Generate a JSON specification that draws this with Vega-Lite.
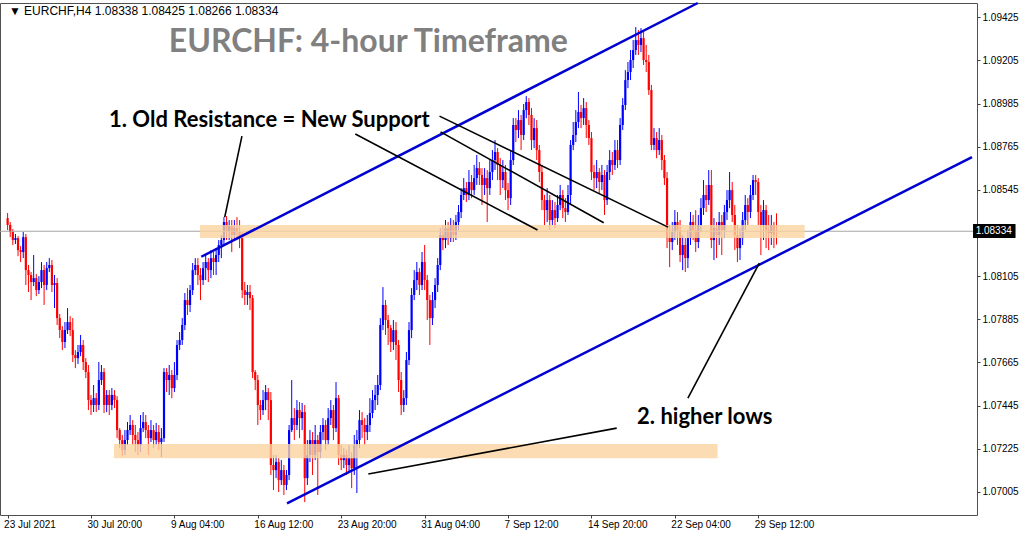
{
"$schema":"https://vega.github.io/schema/vega-lite/v6.json",
"width":977,"height":512,
"autosize":{"type":"none"},
"padding":{"left":0,"top":3,"right":47,"bottom":18},
"background":"white",
"config":{"view":{"stroke":"#505050","strokeWidth":1},
 "axisX":{"labelAlign":"left","labelOffset":-4,"labelFont":"Liberation Sans","labelFontSize":10,"labelColor":"#000000","tickSize":3,"tickColor":"#404040","labelPadding":1,"domain":false,"grid":false,"labelOverlap":false,"labelFlush":false},
 "axisY":{"labelFont":"Liberation Sans","labelFontSize":10,"labelColor":"#000000","tickSize":3,"tickColor":"#404040","labelPadding":2,"domain":false,"grid":false,"labelOverlap":false,"labelFlush":false}},
"datasets":{
"candles":[
{"i":1,"o":1.08401,"h":1.08427,"l":1.0834,"c":1.08366},
{"i":2,"o":1.08366,"h":1.08381,"l":1.08304,"c":1.0833},
{"i":3,"o":1.0833,"h":1.08345,"l":1.08264,"c":1.08289},
{"i":4,"o":1.08289,"h":1.0832,"l":1.08269,"c":1.08299},
{"i":5,"o":1.08299,"h":1.08309,"l":1.08207,"c":1.08238},
{"i":6,"o":1.08238,"h":1.08258,"l":1.08177,"c":1.08228},
{"i":7,"o":1.08228,"h":1.0833,"l":1.08197,"c":1.08304},
{"i":8,"o":1.08304,"h":1.0832,"l":1.0806,"c":1.08136},
{"i":9,"o":1.08136,"h":1.08162,"l":1.08024,"c":1.08111},
{"i":10,"o":1.08111,"h":1.08126,"l":1.07983,"c":1.08075},
{"i":11,"o":1.08075,"h":1.08213,"l":1.08054,"c":1.08095},
{"i":12,"o":1.08095,"h":1.08116,"l":1.08003,"c":1.08034},
{"i":13,"o":1.08034,"h":1.08105,"l":1.08014,"c":1.08075},
{"i":14,"o":1.08075,"h":1.08177,"l":1.08044,"c":1.08136},
{"i":15,"o":1.08136,"h":1.08162,"l":1.07958,"c":1.0806},
{"i":16,"o":1.0806,"h":1.08177,"l":1.08034,"c":1.08146},
{"i":17,"o":1.08146,"h":1.08197,"l":1.08126,"c":1.08162},
{"i":18,"o":1.08162,"h":1.08187,"l":1.08024,"c":1.0806},
{"i":19,"o":1.0806,"h":1.08111,"l":1.07942,"c":1.0807},
{"i":20,"o":1.0807,"h":1.08095,"l":1.07856,"c":1.07891},
{"i":21,"o":1.07891,"h":1.07912,"l":1.07789,"c":1.0783},
{"i":22,"o":1.0783,"h":1.0785,"l":1.07728,"c":1.07769},
{"i":23,"o":1.07769,"h":1.07871,"l":1.07738,"c":1.0783},
{"i":24,"o":1.0783,"h":1.07942,"l":1.0781,"c":1.07871},
{"i":25,"o":1.07871,"h":1.07901,"l":1.07799,"c":1.0783},
{"i":26,"o":1.0783,"h":1.07891,"l":1.07667,"c":1.07703},
{"i":27,"o":1.07703,"h":1.07728,"l":1.07636,"c":1.07687},
{"i":28,"o":1.07687,"h":1.07754,"l":1.07657,"c":1.07718},
{"i":29,"o":1.07718,"h":1.07805,"l":1.07697,"c":1.07754},
{"i":30,"o":1.07754,"h":1.07779,"l":1.07626,"c":1.07667},
{"i":31,"o":1.07667,"h":1.07687,"l":1.07585,"c":1.07616},
{"i":32,"o":1.07616,"h":1.07652,"l":1.07422,"c":1.07473},
{"i":33,"o":1.07473,"h":1.07499,"l":1.07397,"c":1.07448},
{"i":34,"o":1.07448,"h":1.0755,"l":1.07412,"c":1.07483},
{"i":35,"o":1.07483,"h":1.07509,"l":1.07412,"c":1.07448},
{"i":36,"o":1.07448,"h":1.07667,"l":1.07422,"c":1.07575},
{"i":37,"o":1.07575,"h":1.07652,"l":1.0755,"c":1.07616},
{"i":38,"o":1.07616,"h":1.07636,"l":1.07407,"c":1.07448},
{"i":39,"o":1.07448,"h":1.07524,"l":1.07412,"c":1.07499},
{"i":40,"o":1.07499,"h":1.07524,"l":1.07397,"c":1.07448},
{"i":41,"o":1.07448,"h":1.07534,"l":1.07422,"c":1.07499},
{"i":42,"o":1.07499,"h":1.07524,"l":1.07432,"c":1.07473},
{"i":43,"o":1.07473,"h":1.07493,"l":1.07279,"c":1.0732},
{"i":44,"o":1.0732,"h":1.0733,"l":1.07228,"c":1.07269},
{"i":45,"o":1.07269,"h":1.07295,"l":1.07187,"c":1.07218},
{"i":46,"o":1.07218,"h":1.0732,"l":1.07193,"c":1.07269},
{"i":47,"o":1.07269,"h":1.07361,"l":1.07244,"c":1.0732},
{"i":48,"o":1.0732,"h":1.07397,"l":1.07295,"c":1.07346},
{"i":49,"o":1.07346,"h":1.07371,"l":1.07244,"c":1.07295},
{"i":50,"o":1.07295,"h":1.07346,"l":1.07208,"c":1.07269},
{"i":51,"o":1.07269,"h":1.0731,"l":1.07193,"c":1.07244},
{"i":52,"o":1.07244,"h":1.07397,"l":1.07208,"c":1.0733},
{"i":53,"o":1.0733,"h":1.07412,"l":1.0731,"c":1.07361},
{"i":54,"o":1.07361,"h":1.07397,"l":1.07279,"c":1.0732},
{"i":55,"o":1.0732,"h":1.07346,"l":1.07193,"c":1.07279},
{"i":56,"o":1.07279,"h":1.07371,"l":1.07259,"c":1.0732},
{"i":57,"o":1.0732,"h":1.07346,"l":1.07228,"c":1.07269},
{"i":58,"o":1.07269,"h":1.07356,"l":1.07244,"c":1.0731},
{"i":59,"o":1.0731,"h":1.07346,"l":1.07218,"c":1.07259},
{"i":60,"o":1.07259,"h":1.0733,"l":1.07182,"c":1.07279},
{"i":61,"o":1.07279,"h":1.07636,"l":1.07259,"c":1.07616},
{"i":62,"o":1.07616,"h":1.07636,"l":1.07514,"c":1.07575},
{"i":63,"o":1.07575,"h":1.07652,"l":1.07499,"c":1.07601},
{"i":64,"o":1.07601,"h":1.07626,"l":1.07483,"c":1.07534},
{"i":65,"o":1.07534,"h":1.07667,"l":1.07514,"c":1.07601},
{"i":66,"o":1.07601,"h":1.07779,"l":1.07575,"c":1.07754},
{"i":67,"o":1.07754,"h":1.0782,"l":1.07728,"c":1.07779},
{"i":68,"o":1.07779,"h":1.07891,"l":1.07754,"c":1.07856},
{"i":69,"o":1.07856,"h":1.08019,"l":1.0783,"c":1.07983},
{"i":70,"o":1.07983,"h":1.08044,"l":1.07907,"c":1.07958},
{"i":71,"o":1.07958,"h":1.0806,"l":1.07922,"c":1.08034},
{"i":72,"o":1.08034,"h":1.08172,"l":1.08009,"c":1.08136},
{"i":73,"o":1.08136,"h":1.08197,"l":1.08111,"c":1.08162},
{"i":74,"o":1.08162,"h":1.08197,"l":1.0806,"c":1.08111},
{"i":75,"o":1.08111,"h":1.08146,"l":1.07983,"c":1.08085},
{"i":76,"o":1.08085,"h":1.08177,"l":1.0806,"c":1.08146},
{"i":77,"o":1.08146,"h":1.08213,"l":1.08085,"c":1.08177},
{"i":78,"o":1.08177,"h":1.08197,"l":1.08075,"c":1.08136},
{"i":79,"o":1.08136,"h":1.08238,"l":1.08095,"c":1.08197},
{"i":80,"o":1.08197,"h":1.08228,"l":1.08111,"c":1.08177},
{"i":81,"o":1.08177,"h":1.08248,"l":1.08111,"c":1.08213},
{"i":82,"o":1.08213,"h":1.08289,"l":1.08177,"c":1.08264},
{"i":83,"o":1.08264,"h":1.08315,"l":1.08197,"c":1.08289},
{"i":84,"o":1.08289,"h":1.08406,"l":1.08264,"c":1.08381},
{"i":85,"o":1.08381,"h":1.08411,"l":1.08289,"c":1.0833},
{"i":86,"o":1.0833,"h":1.08391,"l":1.08289,"c":1.0836},
{"i":87,"o":1.0836,"h":1.08391,"l":1.08228,"c":1.08315},
{"i":88,"o":1.08315,"h":1.08391,"l":1.08289,"c":1.0835},
{"i":89,"o":1.0835,"h":1.08406,"l":1.08289,"c":1.0833},
{"i":90,"o":1.0833,"h":1.08391,"l":1.08248,"c":1.08299},
{"i":91,"o":1.08299,"h":1.0833,"l":1.07993,"c":1.08034},
{"i":92,"o":1.08034,"h":1.08075,"l":1.07958,"c":1.08009},
{"i":93,"o":1.08009,"h":1.0806,"l":1.07958,"c":1.08024},
{"i":94,"o":1.08024,"h":1.0806,"l":1.07932,"c":1.07993},
{"i":95,"o":1.07993,"h":1.08009,"l":1.07585,"c":1.07616},
{"i":96,"o":1.07616,"h":1.07626,"l":1.07524,"c":1.07575},
{"i":97,"o":1.07575,"h":1.07601,"l":1.07346,"c":1.07448},
{"i":98,"o":1.07448,"h":1.07473,"l":1.07371,"c":1.07422},
{"i":99,"o":1.07422,"h":1.07524,"l":1.07397,"c":1.07473},
{"i":100,"o":1.07473,"h":1.0755,"l":1.07422,"c":1.07514},
{"i":101,"o":1.07514,"h":1.07534,"l":1.07371,"c":1.07473},
{"i":102,"o":1.07473,"h":1.07514,"l":1.07091,"c":1.07142},
{"i":103,"o":1.07142,"h":1.07193,"l":1.07014,"c":1.07116},
{"i":104,"o":1.07116,"h":1.07193,"l":1.07075,"c":1.07157},
{"i":105,"o":1.07157,"h":1.07177,"l":1.07004,"c":1.07065},
{"i":106,"o":1.07065,"h":1.07167,"l":1.0704,"c":1.07116},
{"i":107,"o":1.07116,"h":1.07142,"l":1.06989,"c":1.0704},
{"i":108,"o":1.0704,"h":1.07116,"l":1.07014,"c":1.07091},
{"i":109,"o":1.07091,"h":1.07346,"l":1.07065,"c":1.0732},
{"i":110,"o":1.0732,"h":1.07575,"l":1.0731,"c":1.07381},
{"i":111,"o":1.07381,"h":1.07432,"l":1.07269,"c":1.07346},
{"i":112,"o":1.07346,"h":1.07473,"l":1.0732,"c":1.07422},
{"i":113,"o":1.07422,"h":1.07463,"l":1.07279,"c":1.07381},
{"i":114,"o":1.07381,"h":1.07458,"l":1.0732,"c":1.07412},
{"i":115,"o":1.07412,"h":1.07448,"l":1.06953,"c":1.07075},
{"i":116,"o":1.07075,"h":1.07269,"l":1.0704,"c":1.07193},
{"i":117,"o":1.07193,"h":1.0732,"l":1.07157,"c":1.07269},
{"i":118,"o":1.07269,"h":1.0731,"l":1.07091,"c":1.07193},
{"i":119,"o":1.07193,"h":1.07346,"l":1.07167,"c":1.07269},
{"i":120,"o":1.07269,"h":1.07295,"l":1.06989,"c":1.07208},
{"i":121,"o":1.07208,"h":1.07346,"l":1.07177,"c":1.0731},
{"i":122,"o":1.0731,"h":1.07381,"l":1.07269,"c":1.07346},
{"i":123,"o":1.07346,"h":1.07371,"l":1.07218,"c":1.07269},
{"i":124,"o":1.07269,"h":1.07432,"l":1.07244,"c":1.07381},
{"i":125,"o":1.07381,"h":1.07473,"l":1.07346,"c":1.07422},
{"i":126,"o":1.07422,"h":1.07448,"l":1.07269,"c":1.0733},
{"i":127,"o":1.0733,"h":1.07565,"l":1.0731,"c":1.07483},
{"i":128,"o":1.07483,"h":1.07499,"l":1.07142,"c":1.07193},
{"i":129,"o":1.07193,"h":1.07244,"l":1.07116,"c":1.07167},
{"i":130,"o":1.07167,"h":1.07228,"l":1.07126,"c":1.07193},
{"i":131,"o":1.07193,"h":1.07218,"l":1.07091,"c":1.07142},
{"i":132,"o":1.07142,"h":1.07244,"l":1.07106,"c":1.07177},
{"i":133,"o":1.07177,"h":1.07208,"l":1.07024,"c":1.07126},
{"i":134,"o":1.07126,"h":1.07295,"l":1.07091,"c":1.07244},
{"i":135,"o":1.07244,"h":1.0732,"l":1.06999,"c":1.07269},
{"i":136,"o":1.07269,"h":1.07422,"l":1.07228,"c":1.07371},
{"i":137,"o":1.07371,"h":1.07412,"l":1.07279,"c":1.07346},
{"i":138,"o":1.07346,"h":1.07381,"l":1.07244,"c":1.0731},
{"i":139,"o":1.0731,"h":1.07397,"l":1.07269,"c":1.07346},
{"i":140,"o":1.07346,"h":1.07483,"l":1.0731,"c":1.07407},
{"i":141,"o":1.07407,"h":1.07524,"l":1.07381,"c":1.07473},
{"i":142,"o":1.07473,"h":1.0755,"l":1.07422,"c":1.07499},
{"i":143,"o":1.07499,"h":1.07601,"l":1.07448,"c":1.0755},
{"i":144,"o":1.0755,"h":1.07891,"l":1.07524,"c":1.07856},
{"i":145,"o":1.07856,"h":1.08049,"l":1.0783,"c":1.07958},
{"i":146,"o":1.07958,"h":1.07983,"l":1.07805,"c":1.07881},
{"i":147,"o":1.07881,"h":1.07907,"l":1.07754,"c":1.0784},
{"i":148,"o":1.0784,"h":1.07856,"l":1.07718,"c":1.07769},
{"i":149,"o":1.07769,"h":1.07881,"l":1.07728,"c":1.0783},
{"i":150,"o":1.0783,"h":1.07871,"l":1.07677,"c":1.07754},
{"i":151,"o":1.07754,"h":1.07779,"l":1.07514,"c":1.07575},
{"i":152,"o":1.07575,"h":1.07616,"l":1.07397,"c":1.07448},
{"i":153,"o":1.07448,"h":1.07524,"l":1.07412,"c":1.07483},
{"i":154,"o":1.07483,"h":1.07718,"l":1.07448,"c":1.07677},
{"i":155,"o":1.07677,"h":1.07871,"l":1.07652,"c":1.0783},
{"i":156,"o":1.0783,"h":1.08044,"l":1.07789,"c":1.08009},
{"i":157,"o":1.08009,"h":1.08136,"l":1.07983,"c":1.08085},
{"i":158,"o":1.08085,"h":1.08177,"l":1.08034,"c":1.08126},
{"i":159,"o":1.08126,"h":1.08146,"l":1.08009,"c":1.0806},
{"i":160,"o":1.0806,"h":1.08228,"l":1.08034,"c":1.08177},
{"i":161,"o":1.08177,"h":1.08264,"l":1.08034,"c":1.08085},
{"i":162,"o":1.08085,"h":1.08111,"l":1.07881,"c":1.07983},
{"i":163,"o":1.07983,"h":1.08009,"l":1.07754,"c":1.07891},
{"i":164,"o":1.07891,"h":1.08024,"l":1.07856,"c":1.07983},
{"i":165,"o":1.07983,"h":1.08095,"l":1.07942,"c":1.0806},
{"i":166,"o":1.0806,"h":1.08197,"l":1.08024,"c":1.08162},
{"i":167,"o":1.08162,"h":1.0835,"l":1.08136,"c":1.08315},
{"i":168,"o":1.08315,"h":1.08366,"l":1.08238,"c":1.08289},
{"i":169,"o":1.08289,"h":1.08391,"l":1.08248,"c":1.0835},
{"i":170,"o":1.0835,"h":1.08381,"l":1.08264,"c":1.08299},
{"i":171,"o":1.08299,"h":1.08401,"l":1.08279,"c":1.08366},
{"i":172,"o":1.08366,"h":1.08391,"l":1.08279,"c":1.08315},
{"i":173,"o":1.08315,"h":1.08417,"l":1.08289,"c":1.08381},
{"i":174,"o":1.08381,"h":1.08468,"l":1.0834,"c":1.08432},
{"i":175,"o":1.08432,"h":1.08554,"l":1.08401,"c":1.08519},
{"i":176,"o":1.08519,"h":1.08605,"l":1.08493,"c":1.08554},
{"i":177,"o":1.08554,"h":1.08585,"l":1.08483,"c":1.08519},
{"i":178,"o":1.08519,"h":1.08646,"l":1.08493,"c":1.08585},
{"i":179,"o":1.08585,"h":1.08621,"l":1.08503,"c":1.08544},
{"i":180,"o":1.08544,"h":1.08672,"l":1.08519,"c":1.08605},
{"i":181,"o":1.08605,"h":1.08723,"l":1.0857,"c":1.08656},
{"i":182,"o":1.08656,"h":1.08687,"l":1.0857,"c":1.08621},
{"i":183,"o":1.08621,"h":1.08656,"l":1.08468,"c":1.0857},
{"i":184,"o":1.0857,"h":1.08656,"l":1.08519,"c":1.08605},
{"i":185,"o":1.08605,"h":1.08646,"l":1.08381,"c":1.08554},
{"i":186,"o":1.08554,"h":1.08697,"l":1.08519,"c":1.08636},
{"i":187,"o":1.08636,"h":1.08748,"l":1.08595,"c":1.08697},
{"i":188,"o":1.08697,"h":1.08799,"l":1.08646,"c":1.08738},
{"i":189,"o":1.08738,"h":1.08758,"l":1.08595,"c":1.08672},
{"i":190,"o":1.08672,"h":1.08707,"l":1.08519,"c":1.08595},
{"i":191,"o":1.08595,"h":1.08697,"l":1.08554,"c":1.08636},
{"i":192,"o":1.08636,"h":1.08672,"l":1.08493,"c":1.08544},
{"i":193,"o":1.08544,"h":1.0858,"l":1.08442,"c":1.08503},
{"i":194,"o":1.08503,"h":1.08748,"l":1.08468,"c":1.08697},
{"i":195,"o":1.08697,"h":1.08911,"l":1.08672,"c":1.08876},
{"i":196,"o":1.08876,"h":1.08911,"l":1.08789,"c":1.0885},
{"i":197,"o":1.0885,"h":1.08952,"l":1.08809,"c":1.08901},
{"i":198,"o":1.08901,"h":1.08927,"l":1.08748,"c":1.08825},
{"i":199,"o":1.08825,"h":1.08983,"l":1.08799,"c":1.08952},
{"i":200,"o":1.08952,"h":1.09023,"l":1.08911,"c":1.08993},
{"i":201,"o":1.08993,"h":1.09013,"l":1.08876,"c":1.08927},
{"i":202,"o":1.08927,"h":1.08962,"l":1.08748,"c":1.08799},
{"i":203,"o":1.08799,"h":1.08911,"l":1.08758,"c":1.0886},
{"i":204,"o":1.0886,"h":1.08901,"l":1.08697,"c":1.08748},
{"i":205,"o":1.08748,"h":1.08774,"l":1.08585,"c":1.08636},
{"i":206,"o":1.08636,"h":1.08672,"l":1.08442,"c":1.08493},
{"i":207,"o":1.08493,"h":1.08519,"l":1.08366,"c":1.08442},
{"i":208,"o":1.08442,"h":1.08554,"l":1.08381,"c":1.08493},
{"i":209,"o":1.08493,"h":1.08519,"l":1.0834,"c":1.08391},
{"i":210,"o":1.08391,"h":1.08493,"l":1.08366,"c":1.08442},
{"i":211,"o":1.08442,"h":1.08483,"l":1.0835,"c":1.08401},
{"i":212,"o":1.08401,"h":1.08519,"l":1.08381,"c":1.08468},
{"i":213,"o":1.08468,"h":1.0857,"l":1.08442,"c":1.08519},
{"i":214,"o":1.08519,"h":1.08544,"l":1.08401,"c":1.08452},
{"i":215,"o":1.08452,"h":1.08503,"l":1.08381,"c":1.08432},
{"i":216,"o":1.08432,"h":1.0857,"l":1.08417,"c":1.08519},
{"i":217,"o":1.08519,"h":1.08799,"l":1.08468,"c":1.08774},
{"i":218,"o":1.08774,"h":1.08891,"l":1.08748,"c":1.08825},
{"i":219,"o":1.08825,"h":1.08952,"l":1.08789,"c":1.08891},
{"i":220,"o":1.08891,"h":1.09044,"l":1.0886,"c":1.08942},
{"i":221,"o":1.08942,"h":1.08978,"l":1.0886,"c":1.08911},
{"i":222,"o":1.08911,"h":1.09013,"l":1.08876,"c":1.08962},
{"i":223,"o":1.08962,"h":1.08993,"l":1.08809,"c":1.08876},
{"i":224,"o":1.08876,"h":1.08901,"l":1.08774,"c":1.08809},
{"i":225,"o":1.08809,"h":1.0884,"l":1.08595,"c":1.08636},
{"i":226,"o":1.08636,"h":1.08672,"l":1.08544,"c":1.08605},
{"i":227,"o":1.08605,"h":1.08697,"l":1.08554,"c":1.08636},
{"i":228,"o":1.08636,"h":1.08656,"l":1.08529,"c":1.08585},
{"i":229,"o":1.08585,"h":1.08672,"l":1.08544,"c":1.08621},
{"i":230,"o":1.08621,"h":1.08646,"l":1.08417,"c":1.08493},
{"i":231,"o":1.08493,"h":1.08672,"l":1.08468,"c":1.08636},
{"i":232,"o":1.08636,"h":1.08748,"l":1.08595,"c":1.08697},
{"i":233,"o":1.08697,"h":1.08738,"l":1.08621,"c":1.08672},
{"i":234,"o":1.08672,"h":1.08799,"l":1.08646,"c":1.08748},
{"i":235,"o":1.08748,"h":1.08799,"l":1.08656,"c":1.08697},
{"i":236,"o":1.08697,"h":1.08911,"l":1.08672,"c":1.08876},
{"i":237,"o":1.08876,"h":1.09013,"l":1.0885,"c":1.08978},
{"i":238,"o":1.08978,"h":1.09156,"l":1.08952,"c":1.09105},
{"i":239,"o":1.09105,"h":1.09197,"l":1.09064,"c":1.09146},
{"i":240,"o":1.09146,"h":1.09258,"l":1.09105,"c":1.09207},
{"i":241,"o":1.09207,"h":1.09309,"l":1.09166,"c":1.09258},
{"i":242,"o":1.09258,"h":1.09375,"l":1.09233,"c":1.09309},
{"i":243,"o":1.09309,"h":1.0936,"l":1.09233,"c":1.09284},
{"i":244,"o":1.09284,"h":1.0937,"l":1.09248,"c":1.09319},
{"i":245,"o":1.09319,"h":1.0935,"l":1.09182,"c":1.09207},
{"i":246,"o":1.09207,"h":1.09284,"l":1.09146,"c":1.09197},
{"i":247,"o":1.09197,"h":1.09233,"l":1.09029,"c":1.09054},
{"i":248,"o":1.09054,"h":1.0908,"l":1.08748,"c":1.08774},
{"i":249,"o":1.08774,"h":1.0886,"l":1.08748,"c":1.08809},
{"i":250,"o":1.08809,"h":1.0884,"l":1.08707,"c":1.08748},
{"i":251,"o":1.08748,"h":1.0886,"l":1.08723,"c":1.08799},
{"i":252,"o":1.08799,"h":1.08825,"l":1.08646,"c":1.08697},
{"i":253,"o":1.08697,"h":1.08723,"l":1.0857,"c":1.08605},
{"i":254,"o":1.08605,"h":1.08636,"l":1.08248,"c":1.08299},
{"i":255,"o":1.08299,"h":1.08366,"l":1.08151,"c":1.08279},
{"i":256,"o":1.08279,"h":1.08381,"l":1.08238,"c":1.0833},
{"i":257,"o":1.0833,"h":1.08442,"l":1.08289,"c":1.08381},
{"i":258,"o":1.08381,"h":1.08432,"l":1.08264,"c":1.0834},
{"i":259,"o":1.0834,"h":1.08391,"l":1.08177,"c":1.08213},
{"i":260,"o":1.08213,"h":1.08315,"l":1.08136,"c":1.08264},
{"i":261,"o":1.08264,"h":1.08299,"l":1.08126,"c":1.08197},
{"i":262,"o":1.08197,"h":1.0834,"l":1.08146,"c":1.08299},
{"i":263,"o":1.08299,"h":1.08432,"l":1.08264,"c":1.08381},
{"i":264,"o":1.08381,"h":1.08417,"l":1.08289,"c":1.0834},
{"i":265,"o":1.0834,"h":1.08442,"l":1.08228,"c":1.08279},
{"i":266,"o":1.08279,"h":1.08417,"l":1.08248,"c":1.08366},
{"i":267,"o":1.08366,"h":1.08503,"l":1.0833,"c":1.08452},
{"i":268,"o":1.08452,"h":1.08595,"l":1.08417,"c":1.08519},
{"i":269,"o":1.08519,"h":1.0857,"l":1.08432,"c":1.08493},
{"i":270,"o":1.08493,"h":1.08646,"l":1.08468,"c":1.0857},
{"i":271,"o":1.0857,"h":1.08646,"l":1.08248,"c":1.08289},
{"i":272,"o":1.08289,"h":1.08401,"l":1.08187,"c":1.0835},
{"i":273,"o":1.0835,"h":1.08381,"l":1.08197,"c":1.08315},
{"i":274,"o":1.08315,"h":1.08432,"l":1.08264,"c":1.08381},
{"i":275,"o":1.08381,"h":1.08417,"l":1.08213,"c":1.0834},
{"i":276,"o":1.0834,"h":1.08468,"l":1.08299,"c":1.08432},
{"i":277,"o":1.08432,"h":1.08544,"l":1.08391,"c":1.08493},
{"i":278,"o":1.08493,"h":1.08636,"l":1.08452,"c":1.08544},
{"i":279,"o":1.08544,"h":1.08585,"l":1.08381,"c":1.08417},
{"i":280,"o":1.08417,"h":1.08468,"l":1.08238,"c":1.08315},
{"i":281,"o":1.08315,"h":1.08366,"l":1.08177,"c":1.08248},
{"i":282,"o":1.08248,"h":1.0835,"l":1.08187,"c":1.08299},
{"i":283,"o":1.08299,"h":1.08432,"l":1.08264,"c":1.08391},
{"i":284,"o":1.08391,"h":1.08519,"l":1.0834,"c":1.08468},
{"i":285,"o":1.08468,"h":1.08503,"l":1.08366,"c":1.08432},
{"i":286,"o":1.08432,"h":1.0857,"l":1.08401,"c":1.08519},
{"i":287,"o":1.08519,"h":1.08621,"l":1.08493,"c":1.08595},
{"i":288,"o":1.08595,"h":1.08621,"l":1.08519,"c":1.08585},
{"i":289,"o":1.08585,"h":1.08605,"l":1.08366,"c":1.08432},
{"i":290,"o":1.08432,"h":1.08468,"l":1.08213,"c":1.08366},
{"i":291,"o":1.08366,"h":1.08493,"l":1.08289,"c":1.08442},
{"i":292,"o":1.08442,"h":1.08468,"l":1.08248,"c":1.0834},
{"i":293,"o":1.0834,"h":1.08417,"l":1.08238,"c":1.08325},
{"i":294,"o":1.08325,"h":1.08417,"l":1.08264,"c":1.08366},
{"i":295,"o":1.08366,"h":1.08381,"l":1.08248,"c":1.08315},
{"i":296,"o":1.08338,"h":1.08425,"l":1.08266,"c":1.08334}
],
"zones":[
{"x1":74.8,"x2":306.8,"y1":1.08366,"y2":1.08299},
{"x1":41.8,"x2":273.4,"y1":1.07249,"y2":1.07177}
],
"trend":[
{"kind":"channel","x1":75.3,"y1":1.08204,"x2":265.8,"y2":1.09498},
{"kind":"channel","x1":108.2,"y1":1.06946,"x2":371,"y2":1.08712},
{"kind":"pointer","x1":90.9,"y1":1.08819,"x2":84.3,"y2":1.08406},
{"kind":"pointer","x1":134.4,"y1":1.0883,"x2":204.3,"y2":1.0834},
{"kind":"pointer","x1":167.1,"y1":1.08841,"x2":229.7,"y2":1.08377},
{"kind":"pointer","x1":166.7,"y1":1.08921,"x2":254.4,"y2":1.08355},
{"kind":"pointer","x1":139.4,"y1":1.07096,"x2":234.7,"y2":1.0733},
{"kind":"pointer","x1":262.0,"y1":1.07483,"x2":289.4,"y2":1.08172}
],
"notes":[
{"x":39.9,"y":1.08865,"text":"1. Old Resistance = New Support"},
{"x":242.5,"y":1.07351,"text":"2. higher lows"}
]
},
"layer":[
{"data":{"name":"candles"},
 "mark":{"type":"rule","strokeWidth":1},
 "encoding":{
  "x":{"field":"i","type":"quantitative","title":null,"scale":{"domain":[0,371],"nice":false,"zero":false},
   "axis":{"values":[1,33,65,97,129,161,193,225,257,289],
    "labelExpr":"['23 Jul 2021','30 Jul 20:00','9 Aug 04:00','16 Aug 12:00','23 Aug 20:00','31 Aug 04:00','7 Sep 12:00','14 Sep 20:00','22 Sep 04:00','29 Sep 12:00'][round((datum.value-1)/32)]"}},
  "y":{"field":"l","type":"quantitative","title":null,"scale":{"domain":[1.06887,1.09498],"nice":false,"zero":false},
   "axis":{"orient":"right","values":[1.07005,1.07225,1.07445,1.07665,1.07885,1.08105,1.08545,1.08765,1.08985,1.09205,1.09425],"format":".5f"}},
  "y2":{"field":"h"},
  "color":{"condition":{"test":"datum.c >= datum.o","value":"#0000ff"},"value":"#ff0000"}}},
{"data":{"name":"candles"},
 "mark":{"type":"bar","size":2.2},
 "encoding":{
  "x":{"field":"i","type":"quantitative","title":null,"scale":{"domain":[0,371],"nice":false,"zero":false},
   "axis":{"values":[1,33,65,97,129,161,193,225,257,289],
    "labelExpr":"['23 Jul 2021','30 Jul 20:00','9 Aug 04:00','16 Aug 12:00','23 Aug 20:00','31 Aug 04:00','7 Sep 12:00','14 Sep 20:00','22 Sep 04:00','29 Sep 12:00'][round((datum.value-1)/32)]"}},
  "y":{"field":"o","type":"quantitative","title":null,"scale":{"domain":[1.06887,1.09498],"nice":false,"zero":false},
   "axis":{"orient":"right","values":[1.07005,1.07225,1.07445,1.07665,1.07885,1.08105,1.08545,1.08765,1.08985,1.09205,1.09425],"format":".5f"}},
  "y2":{"field":"c"},
  "color":{"condition":{"test":"datum.c >= datum.o","value":"#0000ff"},"value":"#ff0000"}}},
{"data":{"values":[{"price":1.08334}]},
 "mark":{"type":"rule","color":"#a6a6a6","strokeWidth":1},
 "encoding":{"y":{"field":"price","type":"quantitative","title":null,"scale":{"domain":[1.06887,1.09498],"nice":false,"zero":false},
   "axis":{"orient":"right","values":[1.07005,1.07225,1.07445,1.07665,1.07885,1.08105,1.08545,1.08765,1.08985,1.09205,1.09425],"format":".5f"}}}},
{"data":{"name":"zones"},
 "mark":{"type":"rect","color":"#fbd4a0","opacity":0.8},
 "encoding":{
  "x":{"field":"x1","type":"quantitative","title":null,"scale":{"domain":[0,371],"nice":false,"zero":false},
   "axis":{"values":[1,33,65,97,129,161,193,225,257,289],
    "labelExpr":"['23 Jul 2021','30 Jul 20:00','9 Aug 04:00','16 Aug 12:00','23 Aug 20:00','31 Aug 04:00','7 Sep 12:00','14 Sep 20:00','22 Sep 04:00','29 Sep 12:00'][round((datum.value-1)/32)]"}},
  "x2":{"field":"x2"},
  "y":{"field":"y1","type":"quantitative","title":null,"scale":{"domain":[1.06887,1.09498],"nice":false,"zero":false},
   "axis":{"orient":"right","values":[1.07005,1.07225,1.07445,1.07665,1.07885,1.08105,1.08545,1.08765,1.08985,1.09205,1.09425],"format":".5f"}},
  "y2":{"field":"y2"}}},
{"data":{"name":"trend"},
 "transform":[{"filter":"datum.kind === 'channel'"}],
 "mark":{"type":"rule","color":"#0000d0","strokeWidth":2.5},
 "encoding":{
  "x":{"field":"x1","type":"quantitative","title":null,"scale":{"domain":[0,371],"nice":false,"zero":false},
   "axis":{"values":[1,33,65,97,129,161,193,225,257,289],
    "labelExpr":"['23 Jul 2021','30 Jul 20:00','9 Aug 04:00','16 Aug 12:00','23 Aug 20:00','31 Aug 04:00','7 Sep 12:00','14 Sep 20:00','22 Sep 04:00','29 Sep 12:00'][round((datum.value-1)/32)]"}},
  "x2":{"field":"x2"},
  "y":{"field":"y1","type":"quantitative","title":null,"scale":{"domain":[1.06887,1.09498],"nice":false,"zero":false},
   "axis":{"orient":"right","values":[1.07005,1.07225,1.07445,1.07665,1.07885,1.08105,1.08545,1.08765,1.08985,1.09205,1.09425],"format":".5f"}},
  "y2":{"field":"y2"}}},
{"data":{"name":"trend"},
 "transform":[{"filter":"datum.kind === 'pointer'"}],
 "mark":{"type":"rule","color":"#000000","strokeWidth":1.6},
 "encoding":{
  "x":{"field":"x1","type":"quantitative","title":null,"scale":{"domain":[0,371],"nice":false,"zero":false},
   "axis":{"values":[1,33,65,97,129,161,193,225,257,289],
    "labelExpr":"['23 Jul 2021','30 Jul 20:00','9 Aug 04:00','16 Aug 12:00','23 Aug 20:00','31 Aug 04:00','7 Sep 12:00','14 Sep 20:00','22 Sep 04:00','29 Sep 12:00'][round((datum.value-1)/32)]"}},
  "x2":{"field":"x2"},
  "y":{"field":"y1","type":"quantitative","title":null,"scale":{"domain":[1.06887,1.09498],"nice":false,"zero":false},
   "axis":{"orient":"right","values":[1.07005,1.07225,1.07445,1.07665,1.07885,1.08105,1.08545,1.08765,1.08985,1.09205,1.09425],"format":".5f"}},
  "y2":{"field":"y2"}}},
{"data":{"values":[{"x":139.4,"y":1.09299,"text":"EURCHF: 4-hour Timeframe"}]},
 "mark":{"type":"text","font":"Lato","fontWeight":"bold","fontSize":32,"color":"#808080","align":"center","baseline":"middle"},
 "encoding":{
  "x":{"field":"x","type":"quantitative","title":null,"scale":{"domain":[0,371],"nice":false,"zero":false},
   "axis":{"values":[1,33,65,97,129,161,193,225,257,289],
    "labelExpr":"['23 Jul 2021','30 Jul 20:00','9 Aug 04:00','16 Aug 12:00','23 Aug 20:00','31 Aug 04:00','7 Sep 12:00','14 Sep 20:00','22 Sep 04:00','29 Sep 12:00'][round((datum.value-1)/32)]"}},
  "y":{"field":"y","type":"quantitative","title":null,"scale":{"domain":[1.06887,1.09498],"nice":false,"zero":false},
   "axis":{"orient":"right","values":[1.07005,1.07225,1.07445,1.07665,1.07885,1.08105,1.08545,1.08765,1.08985,1.09205,1.09425],"format":".5f"}},
  "text":{"field":"text"}}},
{"data":{"name":"notes"},
 "mark":{"type":"text","font":"Lato","fontWeight":"bold","fontSize":22,"color":"#000000","align":"left","baseline":"alphabetic"},
 "encoding":{
  "x":{"field":"x","type":"quantitative","title":null,"scale":{"domain":[0,371],"nice":false,"zero":false},
   "axis":{"values":[1,33,65,97,129,161,193,225,257,289],
    "labelExpr":"['23 Jul 2021','30 Jul 20:00','9 Aug 04:00','16 Aug 12:00','23 Aug 20:00','31 Aug 04:00','7 Sep 12:00','14 Sep 20:00','22 Sep 04:00','29 Sep 12:00'][round((datum.value-1)/32)]"}},
  "y":{"field":"y","type":"quantitative","title":null,"scale":{"domain":[1.06887,1.09498],"nice":false,"zero":false},
   "axis":{"orient":"right","values":[1.07005,1.07225,1.07445,1.07665,1.07885,1.08105,1.08545,1.08765,1.08985,1.09205,1.09425],"format":".5f"}},
  "text":{"field":"text"}}},
{"data":{"values":[{"x":1.5,"y":1.09457,"text":"\u25bc EURCHF,H4  1.08338 1.08425 1.08266 1.08334"}]},
 "mark":{"type":"text","font":"Liberation Sans","fontSize":12,"color":"#000000","align":"left","baseline":"middle"},
 "encoding":{
  "x":{"field":"x","type":"quantitative","title":null,"scale":{"domain":[0,371],"nice":false,"zero":false},
   "axis":{"values":[1,33,65,97,129,161,193,225,257,289],
    "labelExpr":"['23 Jul 2021','30 Jul 20:00','9 Aug 04:00','16 Aug 12:00','23 Aug 20:00','31 Aug 04:00','7 Sep 12:00','14 Sep 20:00','22 Sep 04:00','29 Sep 12:00'][round((datum.value-1)/32)]"}},
  "y":{"field":"y","type":"quantitative","title":null,"scale":{"domain":[1.06887,1.09498],"nice":false,"zero":false},
   "axis":{"orient":"right","values":[1.07005,1.07225,1.07445,1.07665,1.07885,1.08105,1.08545,1.08765,1.08985,1.09205,1.09425],"format":".5f"}},
  "text":{"field":"text"}}},
{"data":{"values":[{"x1":371.4,"x2":387.7,"y1":1.08371,"y2":1.08299}]},
 "mark":{"type":"rect","color":"#000000"},
 "encoding":{
  "x":{"field":"x1","type":"quantitative","title":null,"scale":{"domain":[0,371],"nice":false,"zero":false},
   "axis":{"values":[1,33,65,97,129,161,193,225,257,289],
    "labelExpr":"['23 Jul 2021','30 Jul 20:00','9 Aug 04:00','16 Aug 12:00','23 Aug 20:00','31 Aug 04:00','7 Sep 12:00','14 Sep 20:00','22 Sep 04:00','29 Sep 12:00'][round((datum.value-1)/32)]"}},
  "x2":{"field":"x2"},
  "y":{"field":"y1","type":"quantitative","title":null,"scale":{"domain":[1.06887,1.09498],"nice":false,"zero":false},
   "axis":{"orient":"right","values":[1.07005,1.07225,1.07445,1.07665,1.07885,1.08105,1.08545,1.08765,1.08985,1.09205,1.09425],"format":".5f"}},
  "y2":{"field":"y2"}}},
{"data":{"values":[{"x":372.4,"y":1.08334,"text":"1.08334"}]},
 "mark":{"type":"text","font":"Liberation Sans","fontSize":10,"color":"#ffffff","align":"left","baseline":"middle"},
 "encoding":{
  "x":{"field":"x","type":"quantitative","title":null,"scale":{"domain":[0,371],"nice":false,"zero":false},
   "axis":{"values":[1,33,65,97,129,161,193,225,257,289],
    "labelExpr":"['23 Jul 2021','30 Jul 20:00','9 Aug 04:00','16 Aug 12:00','23 Aug 20:00','31 Aug 04:00','7 Sep 12:00','14 Sep 20:00','22 Sep 04:00','29 Sep 12:00'][round((datum.value-1)/32)]"}},
  "y":{"field":"y","type":"quantitative","title":null,"scale":{"domain":[1.06887,1.09498],"nice":false,"zero":false},
   "axis":{"orient":"right","values":[1.07005,1.07225,1.07445,1.07665,1.07885,1.08105,1.08545,1.08765,1.08985,1.09205,1.09425],"format":".5f"}},
  "text":{"field":"text"}}}
]
}
